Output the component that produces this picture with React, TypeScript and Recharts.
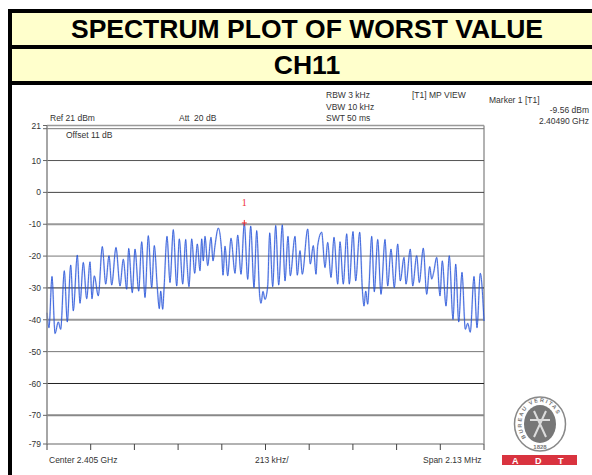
import { LineChart, Line, XAxis, YAxis, ReferenceLine, ReferenceDot } from "recharts";

// sweep position (0..437 across the 2.13 MHz span) and measured level in dBm
const sweepBins = [
  0, 2, 5, 8, 11.3, 13.7, 17.3, 20.3, 23.7, 26.3, 30.3, 33, 36.3, 39.7, 43, 45, 47.3, 51.3, 55.3, 58.7,
  62, 64.7, 69, 73, 76.3, 79.7, 81.7, 85.3, 88, 91.7, 94.7, 98, 101.3, 104.7, 107.3, 110.3, 112.3, 113.7, 115.7, 117,
  120, 123, 126.3, 129.7, 132.3, 135.7, 138.7, 140, 142, 144.7, 147.7, 150.3, 153, 154.7, 156.3, 158, 160.7, 164, 166, 168,
  171.3, 174.7, 176, 178, 180.7, 184, 188, 190.7, 194, 197.3, 200.7, 203.7, 207, 209.7, 212.7, 214, 216, 218, 220.7, 222.7,
  225.7, 228.7, 231.7, 235.3, 238, 241, 243.3, 248, 250.3, 253, 255.3, 260.7, 263.3, 266.3, 269, 270.7, 274.7, 278, 280.7, 284,
  287, 290.7, 293, 296.3, 299.7, 302.3, 306, 308.7, 312.7, 315.3, 317, 318.7, 320.7, 322, 324.7, 327.3, 330.7, 334, 338, 340.7,
  344, 347.3, 350.7, 353.3, 357, 359, 363.3, 365.7, 369.7, 372.3, 376.3, 379.7, 382.7, 384.7, 386.7, 389.7, 393, 395.3, 399, 402.3,
  406, 408.7, 411.7, 415, 418.3, 420.7, 423.3, 427, 430, 433.3, 437,
];
const levels = [
  -37.8, -42.5, -26.4, -44.3, -40.7, -43, -24.6, -40.7, -22.8, -37.2, -19.7, -34.8, -22, -33.4, -21.8, -33.4, -26.2, -32.5, -17, -28.8,
  -19.9, -29.1, -17.3, -29.4, -21, -30.4, -17.6, -31.5, -17.8, -31, -15.5, -33, -13.6, -29.9, -16.7, -29.9, -36.5, -31, -36.7, -30.4,
  -13.8, -28.3, -11.7, -29.4, -14.6, -28.8, -14.8, -22, -29.6, -14.6, -25.4, -16.2, -24.6, -14.6, -21.5, -13.8, -23, -14.1, -21.5, -16.7,
  -11.2, -18.8, -26, -16.9, -26.2, -14.4, -25.4, -13.4, -25.7, -9.6, -27.3, -10.6, -29.9, -12, -32.5, -34.8, -31.1, -33.6, -29.4, -12.7,
  -29.6, -10.4, -29.1, -10.2, -27.8, -13.8, -26.2, -13.8, -26, -18.3, -25.7, -11.5, -22.5, -16.7, -25.7, -16.7, -12.5, -23.6, -15.7, -26.7,
  -14.1, -28.8, -15.5, -28.8, -13, -28.8, -12.3, -27.8, -12.5, -30.2, -35.7, -31, -35.1, -29.6, -13.8, -31.2, -14.8, -32, -14.8, -29.4,
  -17.8, -29.9, -16.2, -27.8, -20.4, -28.8, -17.8, -29.4, -19.9, -28.3, -17.5, -32, -23.3, -27.2, -25.1, -20.4, -32.5, -21.5, -35.7, -19.9,
  -39.9, -22.5, -40.7, -25.1, -43, -41.1, -43.9, -26.4, -42.5, -25.4, -40.4,
];
const yTicks = [21, 20, 10, 0, -10, -20, -30, -40, -50, -60, -70, -79];
const xTicks = [0, 43.7, 87.4, 131.1, 174.8, 218.5, 262.2, 305.9, 349.6, 393.3, 437];
const gridLevels = [20, 10, 0, -10, -20, -30, -40, -50, -60, -70];
const gridColors = ["#777", "#555", "#444", "#999", "#777", "#222", "#999", "#777", "#222", "#888"];
const gridWidths = [1, 1, 1, 2, 1, 1, 2, 1, 1, 2];

const trace = sweepBins.map((bin, i) => ({ bin, level: levels[i] }));

const sans = "'Liberation Sans', Arial, sans-serif";

function Label({ x, y, text, right }: { x: number; y: number; text: string; right?: boolean }) {
  const pos = right ? { right: 592 - x } : { left: x };
  return (
    <div style={{ position: "absolute", top: y, ...pos, fontSize: 8.5, lineHeight: "10px", color: "#333", whiteSpace: "pre" }}>
      {text}
    </div>
  );
}

function Band({ top, height, fontSize, text }: { top: number; height: number; fontSize: number; text: string }) {
  return (
    <div
      style={{
        position: "absolute", left: 12, width: 590, top, height, background: "#ffffcc", color: "#000",
        fontSize, fontWeight: "bold", textAlign: "center", lineHeight: height + "px",
      }}
    >
      {text}
    </div>
  );
}

function MarkerCross({ cx, cy }: { cx?: number; cy?: number }) {
  return (
    <path
      d={`M ${cx! - 2.5} ${cy} H ${cx! + 2.5} M ${cx} ${cy! - 3} V ${cy! + 3}`}
      stroke="#f03030"
      strokeWidth={1}
      fill="none"
    />
  );
}

function Logo() {
  return (
    <svg width={90} height={75} style={{ position: "absolute", left: 495, top: 394 }}>
      <defs>
        <path id="sealArc" d="M 31 43.5 A 18.5 21.5 0 1 1 59 43.5" fill="none" />
      </defs>
      <ellipse cx={45} cy={30} rx={25.5} ry={27} fill="#fff" stroke="#888" strokeWidth={1.5} />
      <ellipse cx={45} cy={30} rx={16} ry={19} fill="#777" />
      <path d="M 39 17 L 51 43 M 51 17 L 39 43 M 35 26 L 55 26" stroke="#ddd" strokeWidth={2} />
      <text fontSize={5.5} fill="#777" fontFamily={sans} fontWeight="bold" letterSpacing={1.5}>
        <textPath href="#sealArc">BUREAU VERITAS</textPath>
      </text>
      <text x={45} y={55} fontSize={6} fill="#777" textAnchor="middle" fontFamily={sans} fontWeight="bold">1828</text>
      <rect x={7} y={61} width={75} height={10} fill="#d9333f" />
      <text x={17} y={69.5} fontSize={9} fill="#fff" fontFamily={sans} fontWeight="bold">A</text>
      <text x={40} y={69.5} fontSize={9} fill="#fff" fontFamily={sans} fontWeight="bold">D</text>
      <text x={63} y={69.5} fontSize={9} fill="#fff" fontFamily={sans} fontWeight="bold">T</text>
    </svg>
  );
}

export default function App() {
  return (
    <div style={{ position: "absolute", left: 0, top: 0, width: 592, height: 475, overflow: "hidden", background: "#fff", fontFamily: sans }}>
      <div style={{ position: "absolute", left: 8, right: 0, top: 9, height: 76, background: "#000" }} />
      <div style={{ position: "absolute", left: 8, width: 4, top: 9, bottom: 0, background: "#000" }} />
      <Band top={13} height={32} fontSize={26.5} text="SPECTRUM PLOT OF WORST VALUE" />
      <Band top={49} height={32} fontSize={26.5} text="CH11" />

      <LineChart
        width={592}
        height={475}
        data={trace}
        margin={{ top: 125.5, right: 108, bottom: 0, left: 0 }}
        style={{ position: "absolute", left: 0, top: 0 }}
      >
        <XAxis
          dataKey="bin"
          type="number"
          domain={[0, 437]}
          ticks={xTicks}
          tickFormatter={() => ""}
          height={31}
          tickSize={6}
          axisLine={{ stroke: "#999", strokeWidth: 1.5 }}
          tickLine={{ stroke: "#444" }}
        />
        <YAxis
          type="number"
          domain={[-79, 21]}
          ticks={yTicks}
          interval={0}
          width={47}
          tickSize={4}
          tick={{ fontSize: 8.5, fill: "#333" }}
          tickFormatter={(v: number) => (v === 20 ? "" : String(v))}
          axisLine={{ stroke: "#888", strokeWidth: 1.5 }}
          tickLine={{ stroke: "#666" }}
        />
        <ReferenceLine y={21} stroke="#999" strokeWidth={1.5} />
        <ReferenceLine x={437} stroke="#999" strokeWidth={1.5} />
        {gridLevels.map((level, i) => (
          <ReferenceLine key={level} y={level} stroke={gridColors[i]} strokeWidth={gridWidths[i]} />
        ))}
        <Line
          dataKey="level"
          type="monotoneX"
          stroke="#2a55d8"
          strokeOpacity={0.25}
          strokeWidth={1.8}
          dot={false}
          legendType="none"
          isAnimationActive={false}
        />
        <Line
          dataKey="level"
          type="monotoneX"
          stroke="#1f4fd8"
          strokeWidth={0.8}
          dot={false}
          isAnimationActive={false}
        />
        <ReferenceDot
          x={197.3}
          y={-9.6}
          shape={MarkerCross}
          label={{ value: "1", position: "top", offset: 7, fill: "#f03030", fontSize: 10, fontFamily: "'Liberation Serif', serif" }}
        />
      </LineChart>

      <Label x={50} y={113} text="Ref 21 dBm" />
      <Label x={179} y={113} text="Att  20 dB" />
      <Label x={66} y={130} text="Offset 11 dB" />
      <Label x={326} y={90} text="RBW 3 kHz" />
      <Label x={326} y={102} text="VBW 10 kHz" />
      <Label x={326} y={113} text="SWT 50 ms" />
      <Label x={412} y={90} text="[T1] MP VIEW" />
      <Label x={489} y={95} text="Marker 1 [T1]" />
      <Label x={589} y={105} text="-9.56 dBm" right />
      <Label x={589} y={116} text="2.40490 GHz" right />
      <Label x={49} y={455} text="Center 2.405 GHz" />
      <Label x={255} y={455} text="213 kHz/" />
      <Label x={423} y={455} text="Span 2.13 MHz" />
      <Logo />
    </div>
  );
}
